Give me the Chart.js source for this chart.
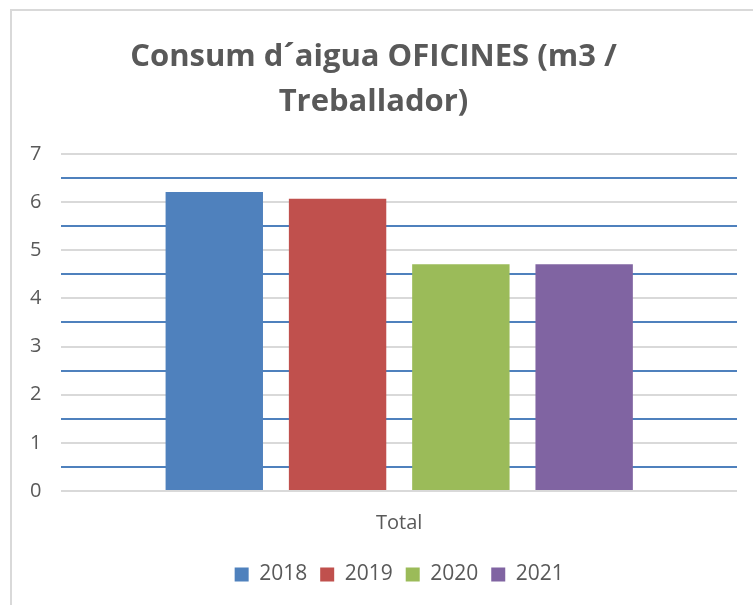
<!DOCTYPE html>
<html>
<head>
<meta charset="utf-8">
<script src="https://cdn.jsdelivr.net/npm/chart.js@4"></script>
<style>
  html, body { margin: 0; padding: 0; background: #fff; overflow: hidden; }
  #frame {
    position: absolute; left: 10px; top: 9px; right: 0; bottom: 0;
    border-left: 2px solid #d9d9d9; border-top: 2px solid #d9d9d9;
  }
  /* the Excel chart area starts at x=10 and runs past the right edge */
  #wrap { position: absolute; left: 10px; top: 0; width: 753px; height: 605px; }
</style>
</head>
<body>
<div id="frame"></div>
<div id="wrap"><canvas id="waterChart"></canvas></div>
<script>
// Consum d'aigua oficines — one category, four years

const categories = ['Total'];
const years = ['2018', '2019', '2020', '2021'];
const values = [6.21, 6.07, 4.71, 4.71];
const colors = ['#4f81bd', '#c0504d', '#9bbb59', '#8064a2'];
const titleLines = ['Consum d´aigua OFICINES (m3 /', 'Treballador)'];

const textColor = '#595959';
const labelFont = '"Open Sans", sans-serif';

const datasets = years.map((y, i) => ({
  label: y,
  data: [values[i]],
  backgroundColor: colors[i],
  borderWidth: 0,
  categoryPercentage: 0.73,
  barPercentage: 0.79
}));

new Chart(document.getElementById('waterChart').getContext('2d'), {
  type: 'bar',
  data: { labels: categories, datasets },
  options: {
    responsive: true,
    maintainAspectRatio: false,
    animation: false,
    layout: { padding: { left: 0, right: 26, top: 0, bottom: 10 } },
    plugins: {
      title: {
        display: true,
        text: titleLines,
        color: textColor,
        font: { family: labelFont, size: 31, weight: 'bold', lineHeight: 1.45 },
        padding: { top: 35, bottom: 29 }
      },
      legend: {
        display: true,
        position: 'bottom',
        fullSize: false,
        labels: {
          color: textColor,
          font: { family: labelFont, size: 21 },
          boxWidth: 14,
          boxHeight: 14,
          padding: 13
        }
      },
      tooltip: { enabled: false }
    },
    scales: {
      x: {
        grid: { display: false },
        border: { display: false },
        ticks: { color: textColor, font: { family: labelFont, size: 20 }, padding: 12 },
        afterFit: scale => { scale.height += 4; }
      },
      y: {
        min: 0,
        max: 7,
        border: { display: false },
        grid: {
          color: ctx => (Number.isInteger(ctx.tick.value) ? '#d9d9d9' : '#4f81bd'),
          lineWidth: 2,
          drawTicks: false
        },
        ticks: {
          stepSize: 0.5,
          autoSkip: false,
          color: textColor,
          font: { family: labelFont, size: 20 },
          padding: 20,
          callback: v => (Number.isInteger(v) ? v : '')
        }
      }
    }
  }
});
</script>
</body>
</html>
